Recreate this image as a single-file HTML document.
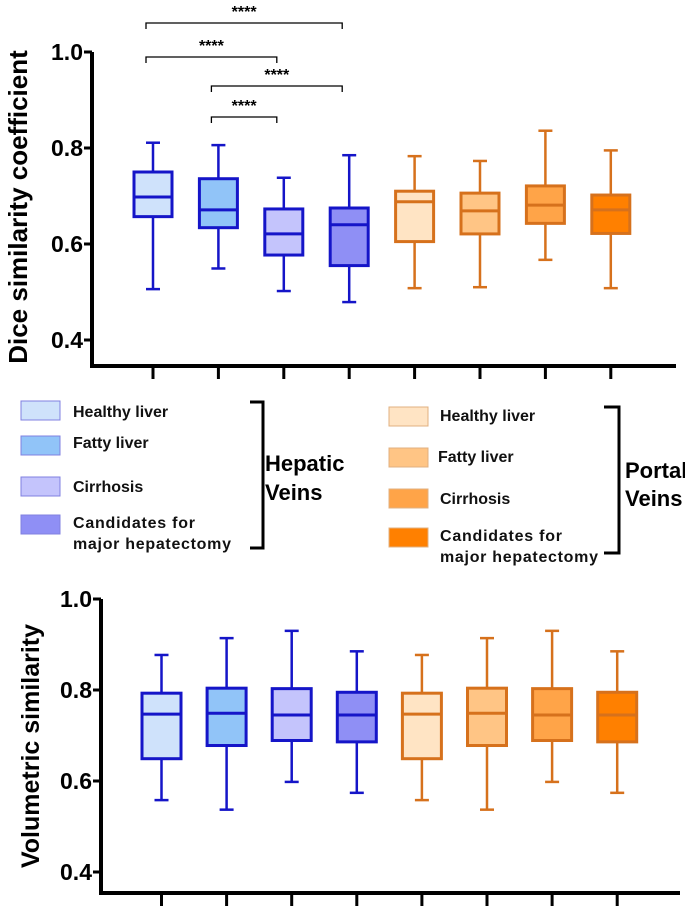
<!DOCTYPE html>
<html><head><meta charset="utf-8"><style>
body{margin:0;background:#fff;}
svg text{font-family:"Liberation Sans",Arial,sans-serif;}
</style></head><body>
<svg width="685" height="912" viewBox="0 0 685 912" xmlns="http://www.w3.org/2000/svg">
<g id="top"></g>
<g id="legend"></g>
<g id="bot"></g>
</svg>
<script>
const categories=["HV Healthy","HV Fatty","HV Cirrhosis","HV Candidates","PV Healthy","PV Fatty","PV Cirrhosis","PV Candidates"];
const diceMin=[0.506,0.549,0.502,0.479,0.508,0.510,0.567,0.508];
const diceQ1=[0.657,0.634,0.577,0.555,0.605,0.621,0.643,0.622];
const diceMed=[0.698,0.671,0.621,0.640,0.688,0.669,0.681,0.671];
const diceQ3=[0.750,0.736,0.673,0.675,0.710,0.706,0.721,0.702];
const diceMax=[0.811,0.806,0.738,0.785,0.783,0.773,0.836,0.795];
const volMin=[0.558,0.537,0.598,0.574,0.558,0.537,0.598,0.574];
const volQ1=[0.649,0.678,0.689,0.686,0.649,0.678,0.689,0.686];
const volMed=[0.747,0.749,0.745,0.745,0.747,0.749,0.745,0.745];
const volQ3=[0.793,0.804,0.803,0.795,0.793,0.804,0.803,0.795];
const volMax=[0.877,0.914,0.930,0.885,0.877,0.914,0.930,0.885];
const yTicks=[0.4,0.6,0.8,1.0];
const yTickLabels=["0.4","0.6","0.8","1.0"];
const sigPairs=[[0,3],[0,2],[1,3],[1,2]];
const sigLabels=["****","****","****","****"];
const fills=["#cfe2fb","#91c4f8","#c4c4fc","#8f8ff5","#ffe4c4","#ffc585","#ffa448","#ff8000"];
const strokes=["#1515c8","#1515c8","#1515c8","#1515c8","#d6711c","#d6711c","#d6711c","#d6711c"];
const NS="http://www.w3.org/2000/svg";
function mk(p,t,a){const e=document.createElementNS(NS,t);for(const k in a)e.setAttribute(k,a[k]);p.appendChild(e);return e;}
function chart(g,cfg,mins,q1,med,q3,maxs,title){
  const y=v=>cfg.y10+(1-v)/0.2*cfg.step;
  const x=i=>cfg.x0+i*cfg.dx;
  let l=mk(g,'line',{x1:cfg.ax,y1:cfg.y10,x2:cfg.ax,y2:cfg.base+1.5,stroke:'#000','stroke-width':4});
  
  
  l=mk(g,'line',{x1:cfg.ax-2,y1:cfg.base,x2:cfg.right,y2:cfg.base,stroke:'#000','stroke-width':4});
  
  
  yTicks.forEach((v,k)=>{
    const t=mk(g,'line',{x1:cfg.ax-8,y1:y(v),x2:cfg.ax,y2:y(v),stroke:'#000','stroke-width':3});
    
    
    const tx=mk(g,'text',{x:cfg.ax-9,y:y(v)+8,'text-anchor':'end','font-size':23,'font-weight':'bold'});
    tx.textContent=yTickLabels[k];
    
    
  });
  const tt=mk(g,'text',{x:0,y:0,'text-anchor':'middle','font-size':cfg.tf,'font-weight':'bold',transform:`translate(${cfg.tx},${cfg.ty}) rotate(-90)`});
  tt.textContent=title;
  
  
  categories.forEach((c,i)=>{
    const cx=x(i),w=cfg.bw,s=strokes[i];
    const tk=mk(g,'line',{x1:cx,y1:cfg.base,x2:cx,y2:cfg.base+13,stroke:'#000','stroke-width':3});
    
    
    const bg=mk(g,'g',{});
    
    
    mk(bg,'line',{x1:cx,y1:y(maxs[i]),x2:cx,y2:y(mins[i]),stroke:s,'stroke-width':2.5});
    mk(bg,'line',{x1:cx-7,y1:y(maxs[i]),x2:cx+7,y2:y(maxs[i]),stroke:s,'stroke-width':2.5});
    mk(bg,'line',{x1:cx-7,y1:y(mins[i]),x2:cx+7,y2:y(mins[i]),stroke:s,'stroke-width':2.5});
    mk(bg,'rect',{x:cx-w/2,y:y(q3[i]),width:w,height:y(q1[i])-y(q3[i]),fill:fills[i],stroke:s,'stroke-width':3});
    mk(bg,'line',{x1:cx-w/2,y1:y(med[i]),x2:cx+w/2,y2:y(med[i]),stroke:s,'stroke-width':3});
  });
  return x;
}
const topG=document.getElementById('top');
const xt=chart(topG,{ax:92,y10:52,step:96,base:366,right:676,x0:153,dx:65.4,bw:38,tx:27,ty:207,tf:26},diceMin,diceQ1,diceMed,diceQ3,diceMax,"Dice similarity coefficient");
const bracketY=[23,57,86,117];
sigPairs.forEach((p,k)=>{
  const a=xt(p[0])-7,b=xt(p[1])-7,yy=bracketY[k];
  const g=mk(topG,'g',{});
  
  
  mk(g,'path',{d:`M${a},${yy+6}V${yy}H${b}V${yy+6}`,fill:'none',stroke:'#000','stroke-width':1.3});
  const t=mk(g,'text',{x:(a+b)/2,y:yy-6,'text-anchor':'middle','font-size':16,'font-weight':'bold'});
  t.textContent=sigLabels[k];
});
const botG=document.getElementById('bot');
chart(botG,{ax:101,y10:599,step:91,base:893,right:680,x0:161.5,dx:65.1,bw:39,tx:39,ty:746,tf:25},volMin,volQ1,volMed,volQ3,volMax,"Volumetric similarity");
const lg=document.getElementById('legend');
const names=["Healthy liver","Fatty liver","Cirrhosis","Candidates for|major hepatectomy"];
const sw=[[21,401],[21,436],[21,477],[21,515],[389,407],[389,448],[389,489],[389,528]];
const tp=[[73,411],[73,442],[73,486],[73,522],[440,415],[438,456],[440,498],[440,535]];
for(let i=0;i<8;i++){
  const g=mk(lg,'g',{});
  
  
  mk(g,'rect',{x:sw[i][0],y:sw[i][1],width:39,height:19,fill:fills[i],stroke:i<4?'#8080e0':'#e0b080','stroke-width':1});
  const parts=names[i%4].split('|');
  parts.forEach((p,k)=>{
    const attrs={x:tp[i][0],y:tp[i][1]+6+k*21,'font-size':16,'font-weight':'bold',fill:'#111'};
    if(parts.length>1)attrs.textLength=(k===0?122:158);
    const t=mk(g,'text',attrs);
    t.textContent=p;
  });
}
[[250,263,402,548,265,463,492,"Hepatic","Veins"],[604,619,407,553,625,470,498,"Portal","Veins"]].forEach(b=>{
  const g=mk(lg,'g',{});
  
  
  mk(g,'path',{d:`M${b[0]},${b[2]}H${b[1]}V${b[3]}H${b[0]}`,fill:'none',stroke:'#000','stroke-width':3});
  const t1=mk(g,'text',{x:b[4],y:b[5]+8,'font-size':22,'font-weight':'bold'});t1.textContent=b[7];
  const t2=mk(g,'text',{x:b[4],y:b[6]+8,'font-size':22,'font-weight':'bold'});t2.textContent=b[8];
});
</script>
</body></html>
